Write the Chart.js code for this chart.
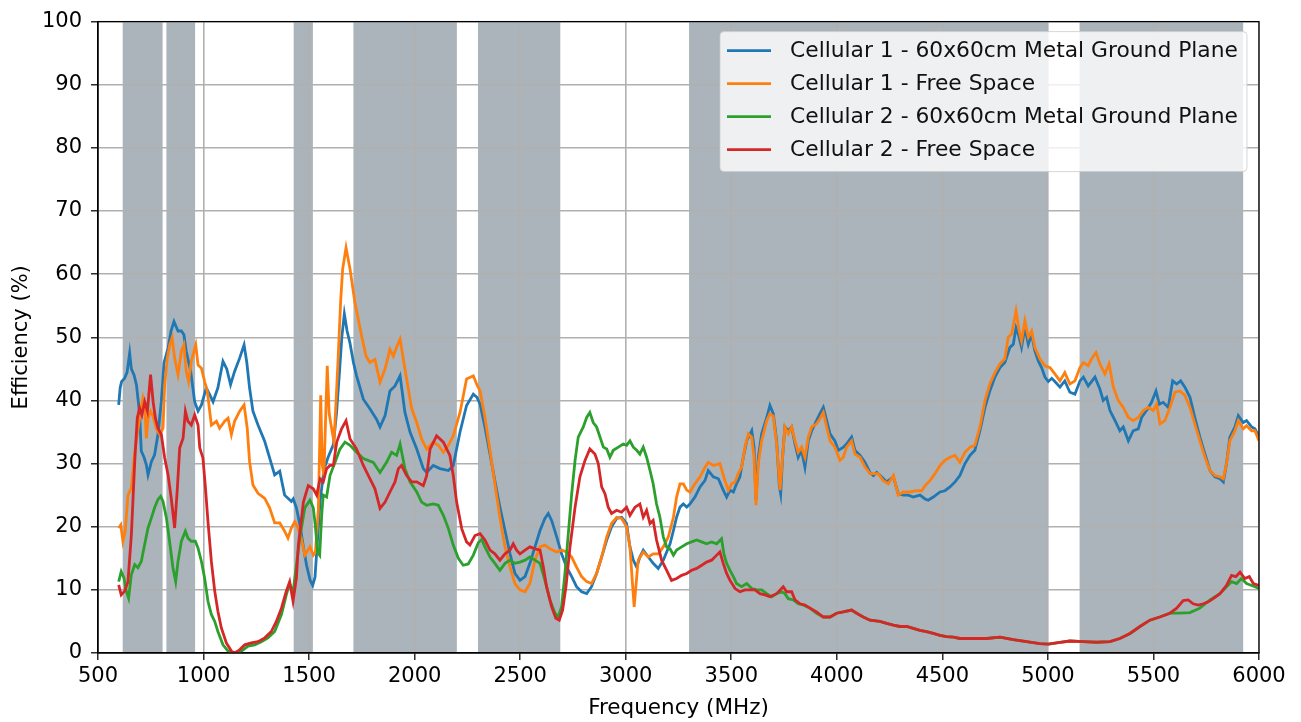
<!DOCTYPE html>
<html><head><meta charset="utf-8">
<script src="https://cdn.jsdelivr.net/npm/chart.js@4.4.1/dist/chart.umd.min.js"></script>
<style>html,body{margin:0;padding:0;background:#fff;overflow:hidden}#wrap{width:1301px;height:722px}</style>
</head><body><div id="wrap"><canvas id="c" width="1301" height="722"></canvas></div>
<script>
const seriesLabels = [
  'Cellular 1 - 60x60cm Metal Ground Plane',
  'Cellular 1 - Free Space',
  'Cellular 2 - 60x60cm Metal Ground Plane',
  'Cellular 2 - Free Space'
];
const seriesColors = ['#1f77b4', '#ff7f0e', '#2ca02c', '#d62728'];
const xTitle = 'Frequency (MHz)';
const yTitle = 'Efficiency (%)';
// shaded frequency bands (MHz)
const bands = [[617,806],[824,960],[1427,1518],[1710,2200],[2300,2690],[3300,5000],[5150,5925]];

// [frequency MHz, efficiency %]
const cell1Ground = [[598,39.3],[605,42],[612,43],[626,43.5],[638,44.5],[650,47.5],[658,45],[671,44],[682,42.5],[697,38],[705,32],[718,31],[729,29.8],[737,28.2],[753,30.3],[768,31.4],[784,34.6],[800,39.8],[813,46],[832,48.3],[846,51],[860,52.5],[879,51],[895,51],[907,50.4],[918,47.8],[939,44.6],[958,39.8],[974,38.3],[990,39.3],[1013,42],[1028,41],[1045,39.8],[1068,42],[1092,46.2],[1110,45],[1128,42.5],[1147,44.6],[1171,46.7],[1192,48.8],[1205,46],[1218,42],[1234,38.3],[1258,36.1],[1290,33.5],[1313,30.9],[1337,28.2],[1361,28.8],[1384,25],[1400,24.5],[1416,24],[1425,24.4],[1440,23],[1457,20.2],[1472,17],[1488,13.9],[1505,11.5],[1517,10.7],[1528,12],[1536,16],[1552,24],[1570,29],[1590,31],[1615,33],[1630,38],[1645,45],[1655,50],[1667,53.7],[1680,51],[1693,49.2],[1710,46],[1725,43.9],[1757,40.2],[1788,38.7],[1820,37],[1836,35.8],[1860,37.6],[1883,41.5],[1907,42.3],[1931,43.9],[1954,38.1],[1978,35],[2010,32.3],[2041,29.2],[2057,28.6],[2088,29.7],[2120,29.2],[2160,28.9],[2183,29.7],[2215,35],[2246,39.2],[2278,41],[2295,40.5],[2310,39.4],[2333,35.8],[2357,31.5],[2380,27.3],[2404,23.1],[2428,19.4],[2452,15.7],[2475,12.6],[2499,11.5],[2523,12.1],[2546,14.2],[2570,16.8],[2594,19.4],[2617,21.3],[2633,22.1],[2649,21],[2673,18.4],[2696,15.7],[2720,13.6],[2744,12.1],[2767,10.5],[2791,9.7],[2815,9.4],[2838,10.5],[2862,12.6],[2886,15.2],[2910,17.9],[2933,20],[2957,21.3],[2981,21.5],[3004,20.5],[3020,16.8],[3036,14.7],[3052,13.6],[3067,15.2],[3083,16.3],[3107,15.2],[3130,14.2],[3154,13.4],[3178,14.7],[3194,16],[3210,17.3],[3226,19.4],[3241,21.5],[3257,23.1],[3273,23.6],[3289,23.1],[3304,23.6],[3328,24.7],[3352,26.3],[3375,27.3],[3391,28.9],[3415,27.9],[3439,27.6],[3462,25.8],[3478,24.7],[3494,25.8],[3510,25.5],[3525,26.8],[3541,27.9],[3557,31],[3573,33.6],[3597,35.2],[3608,32.6],[3617,24.2],[3628,31],[3644,34.7],[3668,37.3],[3683,39.2],[3699,37.9],[3715,33.6],[3728,26.3],[3734,25.2],[3743,31],[3754,35.8],[3770,35.2],[3786,35.8],[3802,33.1],[3817,31],[3833,32.1],[3849,29.4],[3865,33.6],[3881,35.2],[3904,36.8],[3920,37.9],[3936,38.9],[3952,36.8],[3968,34.7],[3991,33.6],[4007,32.1],[4031,32.6],[4046,33.1],[4070,34.2],[4086,32.1],[4110,31.3],[4133,30.2],[4157,28.6],[4173,28.1],[4189,28.6],[4212,27.9],[4236,27.1],[4268,27.9],[4291,25.2],[4315,25],[4339,25],[4362,24.7],[4394,25],[4418,24.4],[4433,24.2],[4457,24.7],[4489,25.5],[4512,25.7],[4536,26.3],[4560,27.1],[4583,28.1],[4607,30],[4631,31.3],[4654,32.1],[4678,35.2],[4702,38.9],[4725,41.5],[4749,43.7],[4773,45.2],[4796,46],[4820,48.4],[4836,48.9],[4849,51.5],[4860,50.5],[4875,48.4],[4891,51.5],[4907,48.9],[4923,50.5],[4938,47.9],[4954,46.3],[4970,45.2],[4986,43.7],[5002,43],[5018,43.5],[5033,43],[5057,42.1],[5080,43.1],[5104,41.3],[5128,41],[5152,43.1],[5168,43.7],[5191,42.3],[5223,43.7],[5246,41.8],[5262,40],[5278,40.5],[5294,38.4],[5318,36.8],[5341,35.2],[5357,35.8],[5381,33.6],[5404,35.2],[5428,35.5],[5444,37.3],[5467,38.4],[5491,39.7],[5512,41.5],[5528,39.4],[5546,39.7],[5570,38.9],[5591,43.1],[5610,42.6],[5629,43.1],[5649,42.1],[5673,40.5],[5696,37.3],[5720,34.2],[5744,31.5],[5768,28.9],[5791,27.9],[5815,27.6],[5831,27.1],[5846,30],[5862,34.2],[5886,35.8],[5902,37.6],[5925,36.5],[5941,36.8],[5965,35.8],[5981,35.5],[6000,34.2]];

const cell1Free = [[598,19.8],[608,20.3],[618,17.7],[629,19.3],[642,25],[658,26.1],[674,31.9],[686,34.6],[702,38.3],[713,40.4],[721,39.3],[729,34],[737,37.2],[749,38.3],[761,37.5],[776,35.6],[792,34.6],[808,35.6],[816,42.5],[828,46.7],[840,48.8],[851,49.9],[863,46.7],[879,44.1],[895,47.8],[907,48.8],[918,44.6],[929,43],[942,46.2],[963,48.8],[974,45.6],[990,45.1],[1005,43],[1018,41.4],[1037,36.1],[1061,36.7],[1076,35.6],[1100,36.7],[1116,37.2],[1132,34.6],[1147,36.7],[1171,38.3],[1192,39.3],[1207,35.6],[1218,30.3],[1234,26.6],[1258,25.3],[1290,24.5],[1313,23],[1337,20.6],[1361,20.6],[1384,19.3],[1400,18.2],[1416,19.8],[1432,20.8],[1447,19.8],[1462,18.3],[1480,15.5],[1504,16.8],[1520,15.5],[1530,16],[1544,22.8],[1555,40.8],[1562,30],[1570,28],[1586,45.5],[1595,38],[1602,36.5],[1618,33.4],[1628,40],[1638,47],[1650,56],[1659,60.8],[1675,64.2],[1694,60.8],[1717,55.5],[1749,50.2],[1770,47],[1788,46],[1812,46.5],[1836,42.9],[1860,45],[1883,48.1],[1899,47],[1915,48.5],[1931,49.7],[1954,45],[1986,38.7],[2010,36.5],[2033,33.9],[2057,32.3],[2088,33.4],[2112,32.9],[2136,31.8],[2160,32.9],[2183,34.4],[2215,38.1],[2246,43.4],[2278,43.9],[2295,42.5],[2310,41.5],[2333,37.3],[2357,32.1],[2380,26.8],[2404,21.5],[2428,16.8],[2452,13.6],[2475,11],[2499,10],[2523,9.7],[2546,11],[2570,14.7],[2594,16.8],[2617,17.1],[2641,16.5],[2673,16],[2696,16.3],[2720,16],[2744,15.2],[2767,13.6],[2791,12.1],[2815,11.3],[2838,11],[2862,12.6],[2886,15.2],[2910,18.4],[2933,20.5],[2957,21.5],[2981,21.3],[3004,20],[3020,16.8],[3033,10.5],[3040,7.3],[3048,10.5],[3059,14.7],[3083,16],[3107,15.2],[3130,15.7],[3154,15.7],[3178,16.8],[3202,18.4],[3226,21.5],[3241,24.7],[3257,26.8],[3273,26.8],[3289,25.8],[3304,25.5],[3328,26.8],[3352,27.9],[3375,29.4],[3391,30.2],[3415,29.7],[3446,30],[3470,27.3],[3486,25.8],[3502,26.8],[3518,27.1],[3533,28.4],[3549,29.4],[3565,32.6],[3581,34.7],[3597,34.2],[3608,31],[3617,23.4],[3628,30],[3644,33.6],[3668,36.8],[3683,37.9],[3699,37.5],[3715,33.1],[3731,25.8],[3743,31],[3754,35.8],[3770,34.7],[3786,35.8],[3802,33.6],[3817,31.8],[3833,32.6],[3849,31],[3865,34.2],[3881,35.8],[3904,36.3],[3920,37.1],[3936,38.1],[3952,35.8],[3968,33.6],[3991,32.6],[4015,30.5],[4031,31],[4046,32.6],[4070,33.6],[4086,31.5],[4110,31],[4133,29.5],[4157,28.4],[4180,28.4],[4196,28.4],[4220,27.3],[4244,26.8],[4268,28.1],[4291,25],[4315,25.5],[4346,25.5],[4378,25.7],[4402,25.7],[4418,26.5],[4441,27.3],[4465,28.4],[4489,29.7],[4512,30.5],[4536,31],[4560,31.3],[4583,30.2],[4607,31.8],[4631,32.6],[4654,32.9],[4678,35.8],[4702,40],[4725,42.6],[4749,44.4],[4773,45.8],[4796,46.6],[4812,50],[4828,50.5],[4849,54.2],[4864,51],[4875,49.4],[4891,52.6],[4907,50],[4923,51],[4938,48.4],[4962,46.6],[4986,45.5],[5010,45.2],[5033,44.2],[5057,43.1],[5080,44.4],[5104,42.6],[5128,43.1],[5152,45.2],[5168,46],[5191,45.5],[5207,46.6],[5228,47.6],[5246,45.8],[5270,44.2],[5290,45.8],[5310,42.1],[5333,40],[5357,38.9],[5381,37.3],[5404,36.8],[5428,37.3],[5452,38.4],[5475,38.9],[5499,38.4],[5515,39.4],[5531,36.3],[5554,36.8],[5578,38.9],[5602,41.3],[5625,41.5],[5649,40.8],[5673,38.9],[5696,36.3],[5720,33.6],[5744,31],[5768,28.9],[5791,28.1],[5815,27.9],[5831,27.6],[5846,30],[5862,33.6],[5886,35.2],[5902,36.8],[5925,35.5],[5941,36],[5965,35.2],[5981,35.2],[6000,33.6]];

const cell2Ground = [[598,11.3],[610,12.9],[623,11.9],[634,9.8],[645,8.7],[658,12.4],[674,14],[689,13.5],[705,14.5],[721,17.2],[737,19.8],[753,21.4],[768,23],[784,24.3],[797,24.8],[808,24],[824,21.4],[839,17.7],[855,13.5],[868,11.3],[879,14.5],[895,17.7],[914,19.3],[926,18.2],[942,17.7],[961,17.7],[974,16.6],[990,14.5],[1005,11.9],[1021,8.2],[1037,6.1],[1053,5],[1068,3.4],[1092,1.3],[1116,0.3],[1147,0],[1179,0.3],[1211,1.1],[1242,1.3],[1274,1.8],[1305,2.4],[1337,3.4],[1369,6.1],[1392,9.2],[1408,11],[1424,9.5],[1440,14],[1457,18.5],[1480,23],[1504,24.2],[1520,23],[1530,20],[1540,16],[1550,15.5],[1560,22],[1567,25],[1583,24.7],[1599,28.1],[1623,30.2],[1646,32.3],[1670,33.4],[1694,32.9],[1725,31.8],[1757,30.8],[1804,30.2],[1836,28.6],[1867,30.2],[1891,31.8],[1915,31.3],[1931,33.1],[1954,29.2],[1978,27.1],[2010,25.5],[2033,23.9],[2057,23.4],[2088,23.6],[2112,23.4],[2136,21.8],[2160,19.7],[2183,17.1],[2207,15],[2230,13.9],[2254,14.1],[2278,15.5],[2302,17.5],[2318,18],[2333,16.8],[2357,15.2],[2380,14.2],[2404,13.1],[2428,14.2],[2452,14.7],[2475,14.2],[2499,14.4],[2523,14.7],[2546,15.2],[2570,14.7],[2594,14.2],[2617,11.5],[2641,8.4],[2665,6.3],[2680,5.7],[2696,7.3],[2712,12.6],[2728,18.9],[2744,25.2],[2760,30.5],[2775,34.2],[2799,35.8],[2815,37.3],[2830,38.1],[2846,36.5],[2862,35.8],[2878,34.2],[2894,32.6],[2910,32.3],[2925,31],[2941,32.1],[2965,32.6],[2988,33.1],[3004,32.9],[3020,33.6],[3036,32.6],[3052,32.1],[3067,31.5],[3083,32.6],[3099,31],[3115,28.9],[3130,26.8],[3146,23.6],[3162,21.5],[3178,18.4],[3194,16.8],[3210,16.5],[3226,15.5],[3241,16.3],[3265,16.8],[3289,17.3],[3312,17.6],[3336,17.9],[3360,17.6],[3383,17.3],[3407,17.6],[3431,17.3],[3454,18.1],[3465,15.7],[3478,14.2],[3494,13.1],[3510,12.1],[3525,11],[3549,10.5],[3573,11],[3597,10.2],[3620,10],[3644,10],[3668,9.4],[3691,8.9],[3715,9.4],[3739,9.7],[3754,9.4],[3770,8.6],[3794,8.4],[3817,7.8],[3841,7.6],[3873,7.1],[3904,6.3],[3936,5.7],[3968,5.7],[3999,6.3],[4031,6.5],[4070,6.8],[4094,6.3],[4125,5.7],[4157,5.2],[4204,5],[4236,4.7],[4268,4.4],[4299,4.2],[4331,4.2],[4362,3.9],[4394,3.6],[4425,3.4],[4457,3.1],[4489,2.8],[4520,2.6],[4552,2.5],[4583,2.3],[4647,2.3],[4710,2.3],[4773,2.5],[4836,2.1],[4899,1.8],[4962,1.5],[5002,1.4],[5057,1.7],[5104,1.9],[5168,1.8],[5230,1.7],[5294,1.8],[5341,2.3],[5389,3.1],[5436,4.2],[5483,5.2],[5530,5.7],[5578,6.3],[5625,6.3],[5673,6.4],[5720,7.1],[5768,8.4],[5815,9.4],[5846,10.5],[5870,11.3],[5894,11],[5917,11.8],[5941,11],[5965,10.7],[5981,10.5],[6000,10.2]];

const cell2Free = [[598,10.8],[610,9.2],[626,9.8],[642,11.3],[658,18.7],[674,30.3],[686,37.2],[697,38.8],[708,37.7],[721,39.8],[734,38.3],[749,44.1],[761,39.8],[772,37.2],[784,35.6],[800,34.6],[816,30.9],[832,28.2],[847,24.5],[863,19.8],[876,26.1],[887,32.5],[903,34],[914,38.3],[926,36.7],[942,36.1],[958,37.7],[974,36.1],[982,32.5],[997,30.9],[1008,26.6],[1021,20.8],[1037,14.5],[1053,9.8],[1068,6.6],[1084,4],[1108,1.6],[1132,0.3],[1147,0],[1171,0.5],[1195,1.3],[1226,1.6],[1258,1.8],[1290,2.4],[1321,3.4],[1345,5],[1369,7.1],[1392,9.8],[1408,11.3],[1424,8.2],[1440,11.9],[1449,17],[1473,23.9],[1496,26.5],[1520,26],[1536,25],[1552,27.6],[1567,27.1],[1583,29.2],[1599,29.7],[1615,29.7],[1631,33.4],[1654,35.5],[1675,36.8],[1694,33.9],[1725,32.3],[1757,29.7],[1788,27.6],[1812,26],[1836,22.9],[1860,23.9],[1883,25.5],[1907,27.1],[1923,29.2],[1938,29.7],[1962,28.1],[1986,27.1],[2010,27.1],[2041,26.5],[2057,28.1],[2073,32.3],[2104,34.4],[2136,33.4],[2167,31.3],[2183,28.1],[2199,23.9],[2223,19.7],[2246,17.6],[2262,17.1],[2286,18.6],[2310,18.9],[2333,17.9],[2357,16.3],[2380,15.7],[2404,14.7],[2428,15.7],[2452,16.3],[2467,17.3],[2483,16.3],[2499,15.7],[2523,16.3],[2546,16.8],[2570,16.5],[2594,16.3],[2610,13.6],[2625,10.5],[2649,7.3],[2669,5.5],[2685,5.2],[2701,6.8],[2717,10.5],[2736,16.8],[2760,23.1],[2783,27.9],[2807,30.5],[2830,32.3],[2854,31.5],[2870,30],[2886,26.3],[2902,25.2],[2917,23.1],[2933,22.1],[2957,22.6],[2980,22.3],[3004,23.1],[3020,21.8],[3044,23.1],[3067,23.6],[3083,21.5],[3099,22.6],[3115,20.5],[3130,21],[3146,17.9],[3170,14.7],[3194,13.1],[3217,11.5],[3241,11.8],[3265,12.3],[3289,12.6],[3312,13.1],[3336,13.4],[3360,13.9],[3383,14.4],[3407,14.7],[3431,15.5],[3446,16],[3462,14.2],[3478,12.6],[3494,11.5],[3518,10.2],[3541,9.7],[3565,10],[3589,10],[3612,10],[3636,9.4],[3660,9.2],[3683,8.9],[3715,9.4],[3746,10.5],[3762,9.7],[3786,9.7],[3802,8.4],[3826,7.8],[3849,7.6],[3873,7.1],[3904,6.5],[3936,5.7],[3968,5.7],[3999,6.3],[4030,6.5],[4070,6.8],[4094,6.3],[4125,5.7],[4157,5.2],[4204,5],[4236,4.7],[4268,4.4],[4299,4.2],[4331,4.2],[4362,3.9],[4394,3.6],[4425,3.4],[4457,3.1],[4489,2.8],[4520,2.6],[4552,2.5],[4583,2.3],[4647,2.3],[4710,2.3],[4773,2.5],[4836,2.1],[4899,1.8],[4962,1.5],[5002,1.4],[5057,1.7],[5104,1.9],[5168,1.8],[5230,1.7],[5294,1.8],[5341,2.3],[5389,3.1],[5436,4.2],[5483,5.2],[5530,5.7],[5578,6.3],[5610,7.1],[5641,8.3],[5665,8.4],[5688,7.8],[5712,7.6],[5736,7.8],[5760,8.1],[5783,8.6],[5815,9.4],[5846,10.7],[5870,12.3],[5890,12.1],[5910,12.8],[5933,11.8],[5954,12.1],[5973,11],[6000,10.7]];

const seriesData = [cell1Ground, cell1Free, cell2Ground, cell2Free];

const FONT = 'DejaVu Sans';

const bandPlugin = {
  id: 'bands',
  beforeDraw(chart) {
    const {ctx, chartArea: a, scales: {x}} = chart;
    ctx.save();
    ctx.fillStyle = 'rgb(170,180,186)';
    bands.forEach(([lo, hi]) => {
      const x0 = x.getPixelForValue(lo), x1 = x.getPixelForValue(hi);
      ctx.fillRect(x0, a.top, x1 - x0, a.bottom - a.top);
    });
    ctx.restore();
  }
};

const framePlugin = {
  id: 'frameLegend',
  afterDraw(chart) {
    const {ctx, chartArea: a} = chart;
    ctx.save();
    ctx.strokeStyle = '#000';
    ctx.lineWidth = 1.25;
    ctx.strokeRect(a.left, a.top, a.right - a.left, a.bottom - a.top);
    // legend
    ctx.font = '21.8px "' + FONT + '"';
    let maxW = 0;
    seriesLabels.forEach(l => { maxW = Math.max(maxW, ctx.measureText(l).width); });
    const textX = 790, lineX0 = 727, lineX1 = 771;
    const boxX = 720, boxY = a.top + 10;
    const boxW = (textX - boxX) + maxW + 9, boxH = 140;
    const r = 4;
    ctx.beginPath();
    ctx.moveTo(boxX + r, boxY);
    ctx.lineTo(boxX + boxW - r, boxY);
    ctx.quadraticCurveTo(boxX + boxW, boxY, boxX + boxW, boxY + r);
    ctx.lineTo(boxX + boxW, boxY + boxH - r);
    ctx.quadraticCurveTo(boxX + boxW, boxY + boxH, boxX + boxW - r, boxY + boxH);
    ctx.lineTo(boxX + r, boxY + boxH);
    ctx.quadraticCurveTo(boxX, boxY + boxH, boxX, boxY + boxH - r);
    ctx.lineTo(boxX, boxY + r);
    ctx.quadraticCurveTo(boxX, boxY, boxX + r, boxY);
    ctx.closePath();
    ctx.fillStyle = 'rgba(255,255,255,0.8)';
    ctx.fill();
    ctx.strokeStyle = 'rgba(204,204,204,0.8)';
    ctx.lineWidth = 1;
    ctx.stroke();
    ctx.textBaseline = 'middle';
    ctx.textAlign = 'left';
    seriesLabels.forEach((l, i) => {
      const yy = boxY + 19 + i * 33;
      ctx.strokeStyle = seriesColors[i];
      ctx.lineWidth = 2.8;
      ctx.beginPath();
      ctx.moveTo(lineX0, yy);
      ctx.lineTo(lineX1, yy);
      ctx.stroke();
      ctx.fillStyle = '#111';
      ctx.fillText(l, textX, yy + 1);
    });
    ctx.restore();
  }
};

const datasets = seriesData.map((d, i) => ({
  label: seriesLabels[i],
  data: d.map(p => ({x: p[0], y: p[1]})),
  borderColor: seriesColors[i],
  backgroundColor: seriesColors[i],
  borderWidth: 2.8,
  pointRadius: 0,
  tension: 0,
  fill: false,
  order: 4 - i
}));

new Chart(document.getElementById('c'), {
  type: 'line',
  data: {datasets},
  plugins: [bandPlugin, framePlugin],
  options: {
    responsive: false,
    animation: false,
    devicePixelRatio: 1,
    layout: {padding: {top: 20, right: 42, left: 0, bottom: 0}},
    plugins: {legend: {display: false}, tooltip: {enabled: false}},
    scales: {
      x: {
        type: 'linear', min: 500, max: 6000,
        ticks: {stepSize: 500, color: '#000', font: {family: FONT, size: 21}, padding: 4, maxRotation: 0, autoSkip: false,
                callback: v => String(v)},
        grid: {color: '#b0b0b0', lineWidth: 1.6, tickColor: '#000', tickLength: 7, tickWidth: 1.25},
        border: {display: true, color: '#000', width: 1.25},
        title: {display: true, text: xTitle, color: '#000', font: {family: FONT, size: 21.5}, padding: {top: 0, bottom: 1}},
        afterFit(s) { s.height = 69; }
      },
      y: {
        min: 0, max: 100,
        ticks: {stepSize: 10, color: '#000', font: {family: FONT, size: 21}, padding: 9, autoSkip: false,
                callback: v => String(v)},
        grid: {color: '#b0b0b0', lineWidth: 1.6, tickColor: '#000', tickLength: 7, tickWidth: 1.25},
        border: {display: true, color: '#000', width: 1.25},
        title: {display: true, text: yTitle, color: '#000', font: {family: FONT, size: 21}, padding: {top: 9, bottom: 0}},
        afterFit(s) { s.width = 98; }
      }
    }
  }
});
</script>
</body></html>
